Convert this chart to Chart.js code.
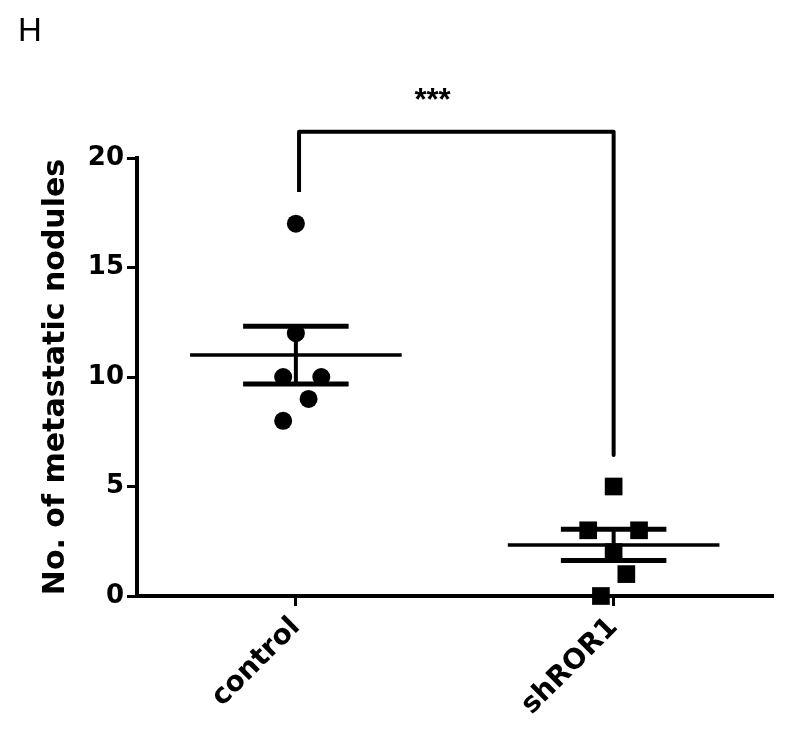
<!DOCTYPE html>
<html>
<head>
<meta charset="utf-8">
<script src="https://cdn.jsdelivr.net/npm/chart.js@4.4.1/dist/chart.umd.min.js"></script>
<style>
  html, body { margin: 0; padding: 0; background: #fff; }
  #wrap { width: 785px; height: 742px; }
</style>
</head>
<body>
<div id="wrap"><canvas id="chart"></canvas></div>
<script>
// Data
const categories = ['control', 'shROR1'];
const controlValues = [17, 12, 10, 10, 9, 8];
const controlJitter = [0, 0, -0.04, 0.08, 0.04, -0.04];
const shrorValues = [5, 3, 3, 2, 1, 0];
const shrorJitter = [0, -0.08, 0.08, 0, 0.04, -0.04];
const yTicks = [0, 5, 10, 15, 20];
const bracket = { left: 18.45, top: 21.2, right: 6.44, label: '***' };

const FONT = '"Liberation Sans", Arial, sans-serif';
const WIDE = '"DejaVu Sans", sans-serif';

function stats(values) {
  const n = values.length;
  const mean = values.reduce((a, b) => a + b, 0) / n;
  const sd = Math.sqrt(values.reduce((a, v) => a + (v - mean) ** 2, 0) / (n - 1));
  return { mean, sem: sd / Math.sqrt(n) };
}

function points(values, jitter, pos) {
  return values.map((v, i) => ({ x: pos + jitter[i], y: v }));
}

function lineSet(data, width) {
  return {
    type: 'line', data, borderColor: '#000', borderWidth: width,
    pointRadius: 0, fill: false, clip: false, borderCapStyle: 'butt'
  };
}

// mean line + SEM bars for each group
const groups = [controlValues, shrorValues];
const summaryDatasets = [];
groups.forEach((vals, pos) => {
  const s = stats(vals);
  summaryDatasets.push(lineSet([{ x: pos - 0.333, y: s.mean }, { x: pos + 0.333, y: s.mean }], 3.5));
  summaryDatasets.push(lineSet([{ x: pos - 0.166, y: s.mean + s.sem }, { x: pos + 0.166, y: s.mean + s.sem }], 5));
  summaryDatasets.push(lineSet([{ x: pos - 0.166, y: s.mean - s.sem }, { x: pos + 0.166, y: s.mean - s.sem }], 5));
  summaryDatasets.push(lineSet([{ x: pos, y: s.mean - s.sem }, { x: pos, y: s.mean + s.sem }], 4));
});

const bracketSet = lineSet([
  { x: 0.01, y: bracket.left }, { x: 0.01, y: bracket.top },
  { x: 1, y: bracket.top }, { x: 1, y: bracket.right }
], 4);
bracketSet.borderJoinStyle = 'round';

const annotations = {
  id: 'annotations',
  afterDraw(chart) {
    const { ctx, scales: { x, y } } = chart;
    ctx.save();
    ctx.fillStyle = '#000';
    ctx.textAlign = 'center';
    ctx.textBaseline = 'middle';
    ctx.font = 'bold 31px ' + FONT;
    ctx.fillText(bracket.label, x.getPixelForValue(0.43), y.getPixelForValue(bracket.top) - 30);
    ctx.textAlign = 'left';
    ctx.textBaseline = 'alphabetic';
    ctx.font = '33px ' + FONT;
    ctx.fillText('H', 18, 41);
    ctx.restore();
  }
};

new Chart(document.getElementById('chart'), {
  type: 'scatter',
  data: {
    datasets: [
      ...summaryDatasets,
      bracketSet,
      {
        data: points(controlValues, controlJitter, 0),
        pointStyle: 'circle', pointRadius: 9, backgroundColor: '#000',
        borderColor: '#000', borderWidth: 0, clip: false
      },
      {
        data: points(shrorValues, shrorJitter, 1),
        pointStyle: 'rect', pointRadius: 12.5, backgroundColor: '#000',
        borderColor: '#000', borderWidth: 0, clip: false
      }
    ]
  },
  options: {
    responsive: true,
    maintainAspectRatio: false,
    animation: false,
    layout: { padding: { top: 158, right: 6, left: 0, bottom: 0 } },
    plugins: { legend: { display: false }, tooltip: { enabled: false } },
    scales: {
      x: {
        type: 'linear', min: -0.5, max: 1.5,
        afterBuildTicks(scale) { scale.ticks = categories.map((c, i) => ({ value: i })); },
        afterFit(scale) { scale.height = 146; },
        border: { color: '#000', width: 4 },
        grid: { display: true, drawOnChartArea: false, drawTicks: true, tickLength: 10, color: '#000', lineWidth: 3 },
        ticks: {
          color: '#000', font: { family: WIDE, size: 28, weight: 'bold' },
          maxRotation: 45, minRotation: 45, padding: 5,
          callback: (v) => categories[v]
        }
      },
      y: {
        min: 0, max: 20,
        afterBuildTicks(scale) { scale.ticks = yTicks.map(v => ({ value: v })); },
        afterFit(scale) { scale.width = 137; },
        border: { color: '#000', width: 4 },
        grid: { display: true, drawOnChartArea: false, drawTicks: true, tickLength: 10, color: '#000', lineWidth: 3 },
        ticks: { color: '#000', font: { family: WIDE, size: 26, weight: 'bold' }, padding: 3 },
        title: {
          display: true, text: 'No. of metastatic nodules', color: '#000',
          font: { family: WIDE, size: 30, weight: 'bold' }, padding: { top: 38, bottom: 0 }
        }
      }
    }
  },
  plugins: [annotations]
});
</script>
</body>
</html>
